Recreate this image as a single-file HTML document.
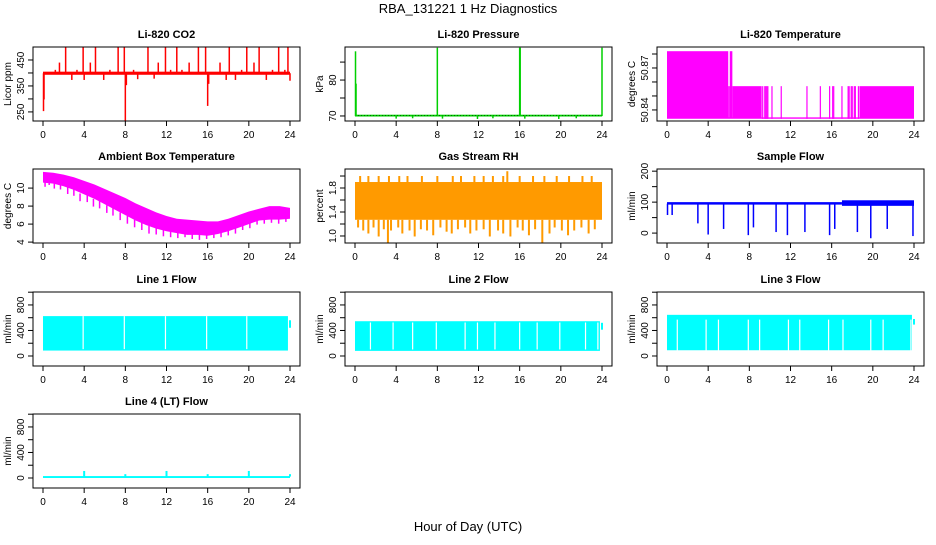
<!DOCTYPE html>
<html><head><meta charset="utf-8"><style>
html,body{margin:0;padding:0;background:#fff;}
svg text{font-family:"Liberation Sans",Arial,sans-serif;}
</style></head><body>
<svg id="chart" width="936" height="540" viewBox="0 0 936 540" xmlns="http://www.w3.org/2000/svg">
<text x="468" y="13" font-size="13" text-anchor="middle">RBA_131221  1 Hz Diagnostics</text>
<text x="468" y="531" font-size="13" text-anchor="middle">Hour of Day (UTC)</text>
</svg>
<script>
const xTicks=[0,4,8,12,16,20,24];
// CO2
const co2Band=[393,405];
const co2SpikeHours=[0.05,0.1,1.2,1.6,2.2,2.8,3.3,3.9,4.0,4.6,5.1,5.9,6.5,7.3,7.9,8.0,8.1,8.8,9.2,10.2,10.8,11.2,11.9,12.4,13.0,13.5,14.2,15.1,15.8,16.0,16.1,17.2,17.8,18.1,18.7,19.3,19.8,20.5,21.0,21.7,22.3,22.9,23.5,23.8,24.0];
const co2SpikeValues=[255,300,412,440,500,375,412,500,375,440,500,375,412,500,500,215,355,412,378,500,380,440,500,412,500,412,440,500,500,275,360,440,375,500,375,412,500,440,500,375,412,500,412,500,372];
// Pressure
const pressBase=70.1;
const pressSpikeHours=[0.05,0.1,4.0,5.6,8.0,8.5,11.9,13.4,16.0,16.05,16.5,19.8,21.5,24.0];
const pressSpikeValues=[88,79,69.4,69.5,89,69.4,69.3,69.5,89,89,69.4,69.3,69.5,89];
// Li-820 temperature
const tempBase=50.834;
const tempSegStart=[0,5.95,6.1,6.35,18.7];
const tempSegEnd=[5.95,6.1,6.35,9.2,24.0];
const tempSegLevel=[50.882,50.857,50.882,50.857,50.857];
const tempLineHours=[9.3,9.5,9.6,9.7,9.8,10.2,11.1,13.6,14.9,15.8,16.1,16.2,17.0,17.6,17.7,17.9,18.0,18.2,18.3,18.6];
// Ambient box temperature
const ambHours=[0,1,2,3,4,5,6,7,8,9,10,11,12,13,14,15,16,17,18,19,20,21,22,23,24];
const ambHi=[11.8,11.7,11.5,11.2,10.8,10.4,9.9,9.4,8.9,8.3,7.8,7.3,6.9,6.6,6.5,6.4,6.3,6.3,6.6,7.0,7.4,7.7,8.0,8.0,7.8];
const ambLo=[10.6,10.5,10.2,9.8,9.3,8.8,8.2,7.6,7.0,6.4,5.9,5.5,5.2,5.0,4.8,4.8,4.7,4.9,5.2,5.6,6.0,6.4,6.5,6.5,6.6];
const ambDipHours=[0.2,0.6,1.1,1.7,2.4,3.0,3.6,4.3,4.9,5.5,6.2,6.8,7.5,8.2,8.9,9.6,10.3,11.0,11.7,12.4,13.1,13.8,14.5,15.2,15.9,16.6,17.3,18.0,18.7,19.4,20.1,20.8,21.5,22.2,22.9,23.6];
const ambDipValues=[10.2,10.4,10.0,9.9,9.4,9.2,8.6,8.5,8.0,7.8,7.3,7.0,6.5,6.1,5.7,5.4,5.0,4.9,4.7,4.6,4.5,4.6,4.4,4.3,4.4,4.5,4.6,4.8,5.0,5.4,5.6,6.0,6.1,6.2,6.1,6.3];
// Gas stream RH
const rhBand=[1.27,1.9];
const rhDipHours=[0.3,0.8,1.3,1.8,2.3,2.8,3.2,3.5,4.2,4.6,5.3,5.8,6.4,7.0,7.6,8.3,8.9,9.4,10.0,10.7,11.2,11.8,12.5,13.1,13.9,14.4,15.1,15.8,16.3,16.9,17.5,18.2,18.9,19.4,20.1,20.7,21.3,22.0,22.7,23.3];
const rhDipValues=[1.15,1.1,1.05,1.15,1.0,1.12,0.9,1.1,1.15,1.05,1.1,1.0,1.12,1.1,1.02,1.15,1.08,1.05,1.12,1.15,1.05,1.1,1.12,1.0,1.1,1.05,1.0,1.15,1.1,1.02,1.12,0.9,1.05,1.15,1.1,1.02,1.1,1.15,1.05,1.12];
const rhUpHours=[0.5,1.3,2.3,3.3,4.3,5.1,6.5,8.0,9.5,10.3,11.6,12.5,13.4,14.4,14.8,16.0,17.3,18.4,19.6,20.8,22.1,23.0];
const rhUpValues=[2.0,2.0,2.0,2.0,2.0,2.0,2.0,2.0,2.0,2.0,2.0,2.0,2.0,2.0,2.08,2.0,2.0,2.0,2.0,2.0,2.0,2.0];
// Sample flow
const sfSegStart=[0,17];
const sfSegEnd=[17,24];
const sfSegLo=[92,88];
const sfSegHi=[100,106];
const sfDipHours=[0.05,0.5,3.0,4.0,5.5,7.9,8.4,10.6,11.7,13.4,15.8,16.3,18.5,19.8,21.4,23.9];
const sfDipValues=[60,60,33,-3,15,-5,20,5,-5,5,-5,15,5,-15,15,-8];
// Line flows
const l1Band=[85,625];
const l1Gaps=[3.9,7.9,11.9,15.9,19.8];
const l1EndBar=[450,560];
const l2Band=[80,545];
const l2Gaps=[1.5,3.7,5.6,7.9,10.7,11.9,13.6,16.0,17.7,19.9,22.4,23.6];
const l2EndBar=[420,520];
const l3Band=[90,645];
const l3GapTop=570;
const l3Gaps=[1.0,3.8,5.0,7.9,9.0,11.8,12.9,15.7,17.1,19.8,21.0,23.7];
const l3EndBar=[500,580];
const l4Band=[0,30];
const l4SpikeHours=[4,8,12,16,20,24];
const l4SpikeValues=[110,60,110,60,110,60];

const NS='http://www.w3.org/2000/svg';
const svg=document.getElementById('chart');
function mk(tag,attrs,name,parent){
  const e=document.createElementNS(NS,tag);
  for(const k in attrs) e.setAttribute(k,attrs[k]);
  
  
  (parent||svg).appendChild(e);
  return e;
}
const rowTops=[47,169,292,414];
const axesGroups=[];
function panel(col,row,title,ylab,ymin,ymax,yTicks,yLabels,slug){
  const left=33+312*col,right=300+312*col,top=rowTops[row],bottom=top+74;
  const g=mk('g',{},slug+'-panel');
  const x=h=>left+10+h/24*247;
  const y=v=>bottom-(v-ymin)/(ymax-ymin)*74;
  mk('text',{x:(left+right)/2,y:top-9,'font-size':11,'font-weight':'bold','text-anchor':'middle'},slug+'-title',g).textContent=title;
  mk('text',{x:0,y:0,'font-size':10,'text-anchor':'middle',transform:`translate(${left-22},${(top+bottom)/2}) rotate(-90)`},slug+'-y-axis-title',g).textContent=ylab;
  const data=mk('g',{},slug+'-series',g);
  const ax=mk('g',{},slug+'-axes',g);
  axesGroups.push([g,ax]);
  mk('rect',{x:left,y:top,width:right-left,height:bottom-top,fill:'none',stroke:'#000','stroke-width':1},slug+'-frame',ax);
  mk('line',{x1:x(0),x2:x(24),y1:bottom,y2:bottom,stroke:'#000'},slug+'-x-axis',ax);
  xTicks.forEach(t=>{
    mk('line',{x1:x(t),x2:x(t),y1:bottom,y2:bottom+5,stroke:'#000'},slug+'-x-tick',ax);
    mk('text',{x:x(t),y:bottom+17,'font-size':10,'text-anchor':'middle'},slug+'-x-tick-label',ax).textContent=t;
  });
  yTicks.forEach(t=>{
    mk('line',{x1:left,x2:left-5,y1:y(t),y2:y(t),stroke:'#000'},slug+'-y-tick',ax);
  });
  yLabels.forEach(t=>{
    mk('text',{x:0,y:0,'font-size':10,'text-anchor':'middle',transform:`translate(${left-9},${y(t)}) rotate(-90)`},slug+'-y-tick-label',ax).textContent=t;
  });
  return {x,y,g:data,slug};
}
function vbar(p,h,v1,v2,color,w,name){
  mk('rect',{x:p.x(h)-w/2,y:Math.min(p.y(v1),p.y(v2)),width:w,height:Math.abs(p.y(v1)-p.y(v2))+0.5,fill:color},name,p.g);
}
function band(p,h1,h2,v1,v2,fill,name){
  mk('rect',{x:p.x(h1),y:p.y(v2),width:p.x(h2)-p.x(h1),height:p.y(v1)-p.y(v2),fill:fill},name,p.g);
}

// CO2
let p=panel(0,0,'Li-820 CO2','Licor ppm',215,500,[250,300,350,400,450],[250,350,450],'co2');
band(p,0,24,co2Band[0],co2Band[1],'#ff0000','co2-baseline');
co2SpikeHours.forEach((h,i)=>vbar(p,h,399,co2SpikeValues[i],'#ff0000',1.5,'co2-spike'));

// Pressure
p=panel(1,0,'Li-820 Pressure','kPa',68.6,89.2,[70,75,80,85],[70,80],'pressure');
band(p,0,24,pressBase-0.25,pressBase+0.25,'#00d000','pressure-baseline');
mk('line',{x1:p.x(0),x2:p.x(24),y1:p.y(pressBase),y2:p.y(pressBase),stroke:'#004000','stroke-dasharray':'1,2','stroke-width':0.8},'pressure-dots',p.g);
pressSpikeHours.forEach((h,i)=>vbar(p,h,pressBase,pressSpikeValues[i],'#00d000',1.5,'pressure-spike'));

// Temperature
p=panel(2,0,'Li-820 Temperature','degrees C',50.8321,50.885,[50.84,50.85,50.86,50.87,50.88],['50.84','50.87'],'li820-temp');
tempSegStart.forEach((s,i)=>band(p,s,tempSegEnd[i],tempBase,tempSegLevel[i],'#ff00ff','temp-block'));
band(p,0,24,tempBase-0.0003,tempBase+0.0007,'#ff00ff','temp-baseline');
tempLineHours.forEach(h=>vbar(p,h,tempBase,50.857,'#ff00ff',1.2,'temp-line'));

// Ambient
p=panel(0,1,'Ambient Box Temperature','degrees C',3.9,12.12,[4,6,8,10],[4,6,8,10],'ambient');
let pts=ambHours.map((h,i)=>p.x(h)+','+p.y(ambHi[i])).concat(ambHours.slice().reverse().map((h,i)=>p.x(h)+','+p.y(ambLo[ambHours.length-1-i])));
mk('polygon',{points:pts.join(' '),fill:'#ff00ff'},'ambient-band',p.g);
ambDipHours.forEach((h,i)=>vbar(p,h,ambDipValues[i]+0.8,ambDipValues[i],'#ff00ff',1.5,'ambient-dip'));

// RH
const rhFill='#ff9a00';
p=panel(1,1,'Gas Stream RH','percent',0.883,2.117,[1.0,1.2,1.4,1.6,1.8,2.0],['1.0','1.4','1.8'],'rh');
band(p,0,24,rhBand[0],rhBand[1],rhFill,'rh-band');
rhDipHours.forEach((h,i)=>vbar(p,h,rhBand[0],rhDipValues[i],rhFill,2,'rh-dip'));
rhUpHours.forEach((h,i)=>vbar(p,h,rhBand[1],rhUpValues[i],rhFill,2,'rh-up'));

// Sample flow
p=panel(2,1,'Sample Flow','ml/min',-32,207,[0,50,100,150,200],[0,100,200],'sample-flow');
sfSegStart.forEach((s,i)=>band(p,s,sfSegEnd[i],sfSegLo[i],sfSegHi[i],'#0000ff','sample-flow-band'));
sfDipHours.forEach((h,i)=>vbar(p,h,95,sfDipValues[i],'#0000ff',1.5,'sample-flow-dip'));

// Line flows
const lt=[0,200,400,600,800,1000],ll=[0,400,800];
p=panel(0,2,'Line 1 Flow','ml/min',-157,1003,lt,ll,'line1-flow');
band(p,0,23.8,l1Band[0],l1Band[1],'#00ffff','line1-band');
l1Gaps.forEach(h=>vbar(p,h,l1Band[0]+30,l1Band[1],'#ffffff',1.2,'line1-gap'));
vbar(p,24,l1EndBar[0],l1EndBar[1],'#00ffff',2,'line1-end');

p=panel(1,2,'Line 2 Flow','ml/min',-157,1003,lt,ll,'line2-flow');
band(p,0,23.8,l2Band[0],l2Band[1],'#00ffff','line2-band');
l2Gaps.forEach(h=>vbar(p,h,l2Band[0]+30,l2Band[1]-20,'#ffffff',1.2,'line2-gap'));
vbar(p,24,l2EndBar[0],l2EndBar[1],'#00ffff',2,'line2-end');

p=panel(2,2,'Line 3 Flow','ml/min',-157,1003,lt,ll,'line3-flow');
band(p,0,23.8,l3Band[0],l3Band[1],'#00ffff','line3-band');
l3Gaps.forEach(h=>vbar(p,h,l3Band[0]+5,l3GapTop,'#ffffff',1.2,'line3-gap'));
vbar(p,24,l3EndBar[0],l3EndBar[1],'#00ffff',2,'line3-end');

p=panel(0,3,'Line 4 (LT) Flow','ml/min',-157,1003,lt,ll,'line4-flow');
band(p,0,24,l4Band[0],l4Band[1],'#00ffff','line4-band');
l4SpikeHours.forEach((h,i)=>vbar(p,h,l4Band[1],l4SpikeValues[i],'#00ffff',2,'line4-spike'));

axesGroups.forEach(([g,ax])=>g.appendChild(ax));
</script>
</body></html>
